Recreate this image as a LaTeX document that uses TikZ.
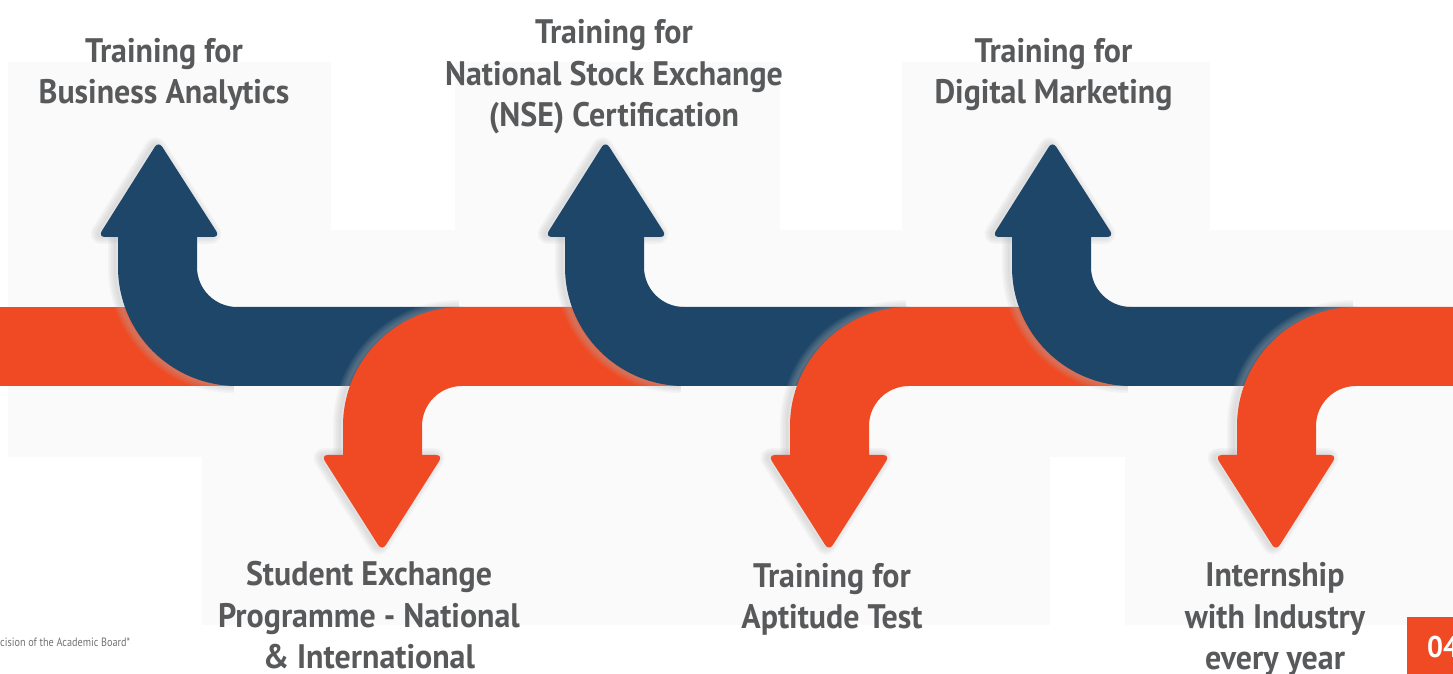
\documentclass[tikz,border=0pt]{standalone}
\usepackage{fontspec}
\newfontfamily\lblfont{PT Sans}[FakeStretch=0.94]
\newfontfamily\footfont{PT Sans}[FakeStretch=0.85]
\definecolor{navy}{HTML}{1D4669}
\definecolor{orng}{HTML}{EF4A23}
\definecolor{txtg}{HTML}{58595B}
\definecolor{lightbg}{HTML}{FAFAFA}
\definecolor{glowc}{HTML}{B4B4B4}
\tikzset{
  lbl/.style={text=txtg, font=\lblfont\bfseries\fontsize{34}{41.5}\selectfont, align=center, anchor=base, inner sep=0pt},
  foot/.style={text=txtg!85, font=\footfont\fontsize{12}{14}\selectfont, inner sep=0pt},
  bgbox/.style={fill=lightbg},
}
\begin{document}
\begin{tikzpicture}[x=1pt,y=1pt]
\useasboundingbox (0,0) rectangle (1453,674);
\fill[white] (0,0) rectangle (1453,674);
% faint background boxes
\fill[bgbox] (8,217) rectangle (331,612);
\fill[bgbox] (331,217) rectangle (455,444);
\fill[bgbox] (455,217) rectangle (780,612);
\fill[bgbox] (780,217) rectangle (902,444);
\fill[bgbox] (902,217) rectangle (1210,612);
\fill[bgbox] (1210,217) rectangle (1453,444);
\fill[bgbox] (202,49) rectangle (1050,217);
\fill[bgbox] (1125,49) rectangle (1453,217);
% left orange band
\fill[orng] (0,288) rectangle (240,367);
\foreach \k in {0,1,2}{
\begin{scope}[xshift=447*\k pt]
  % ---- blue arrow (up) ----
  \foreach \w in {2,5,8,11,14}{
    \draw[glowc, line width=\w pt, opacity=0.09, xshift=-3pt]
      (118,437) -- (118,407) arc[start angle=180,end angle=270,radius=119];
    \draw[glowc, line width=\w pt, opacity=0.09, xshift=-3pt, rounded corners=7pt]
      (98,437) -- (220,437) -- (158.5,533) -- cycle;
  }
  \fill[navy] (462,367) -- (237,367) arc[start angle=270,end angle=180,radius=40]
     -- (197,438) -- (118,438) -- (118,407) arc[start angle=180,end angle=270,radius=119]
     -- (462,288) -- cycle;
  \fill[navy, rounded corners=7pt] (98,437) -- (220,437) -- (158.5,533) -- cycle;
  % ---- orange arrow (down) ----
  \foreach \w in {2,5,8,11,14}{
    \draw[glowc, line width=\w pt, opacity=0.09, xshift=-3pt]
      (343,219) -- (343,248) arc[start angle=180,end angle=90,radius=119];
    \draw[glowc, line width=\w pt, opacity=0.09, xshift=-3pt, rounded corners=7pt]
      (321,219) -- (443,219) -- (382,123) -- cycle;
  }
  \fill[orng] (684,367) -- (462,367) arc[start angle=90,end angle=180,radius=119]
     -- (343,218) -- (422,218) -- (422,248) arc[start angle=180,end angle=90,radius=40]
     -- (684,288) -- cycle;
  \fill[orng, rounded corners=7pt] (321,219) -- (443,219) -- (382,123) -- cycle;
\end{scope}
}
% labels (anchor = baseline of last line)
\node[lbl] (ba) at (164,570) {Training for\\Business Analytics};
\node[lbl] (nse) at (614,547) {Training for\\National Stock Exchange\\(NSE) Certification};
\node[lbl] (dm) at (1053.5,570) {Training for\\Digital Marketing};
\node[lbl] (se) at (369,5) {Student Exchange\\Programme - National\\\& International};
\node[lbl] (apt) at (832,45) {Training for\\Aptitude Test};
\node[lbl] (intern) at (1275,4) {Internship\\with Industry\\every year};
\node[foot, anchor=base west] (fn) at (0,27) {cision of the Academic Board*};
% page number box
\fill[orng] (1407,0) rectangle (1460,57);
\node[text=white, font=\lblfont\bfseries\fontsize{30}{32}\selectfont, inner sep=0pt, anchor=base west] (pg) at (1427,16) {04};
\end{tikzpicture}
\end{document}
